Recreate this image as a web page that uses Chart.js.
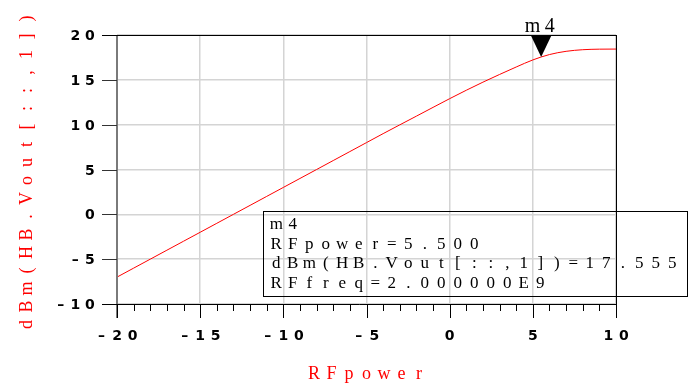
<!DOCTYPE html>
<html>
<head>
<meta charset="utf-8">
<script src="https://cdn.jsdelivr.net/npm/chart.js@4/dist/chart.umd.min.js"></script>
<style>
  html, body { margin: 0; padding: 0; background: #fff; }
  canvas { display: block; }
</style>
</head>
<body>
<canvas id="canvas" width="693" height="385"></canvas>
<script>
// swept input power (dBm) and output power dBm(HB.Vout[::,1])
const rfPower = [-20, -19, -18, -17, -16, -15, -14, -13, -12, -11, -10, -9, -8, -7, -6, -5,
                 -4, -3, -2, -1, 0, 1, 2, 3, 4, 5, 6, 7, 8, 9, 10];
const vout = [-7.0, -6.0, -5.0, -4.0, -3.0, -2.0, -1.0, 0.0, 1.0, 2.0, 3.0, 4.0, 5.0, 6.0, 7.0, 8.0,
              9.0, 9.98, 10.95, 11.93, 12.9, 13.84, 14.74, 15.6, 16.43, 17.22, 17.82, 18.18, 18.36, 18.42, 18.43];

// marker m4
const markerName = 'm4';
const markerX = [5.5];
const markerY = [17.555];
const markerLines = ['m4', 'RFpower=5.500', 'dBm(HB.Vout[::,1])=17.555', 'RFfreq=2.000000E9'];

// axes
const xTicks = [-20, -15, -10, -5, 0, 5, 10];
const yTicks = [-10, -5, 0, 5, 10, 15, 20];
const xTitle = 'RFpower';
const yTitle = 'dBm(HB.Vout[::,1])';

// draw text with a fixed pitch per character (like the original plot font)
function spaced(ctx, text, x, y, pitch, align) {
    const total = text.length * pitch;
    let start = x;
    if (align === 'center') start = x - total / 2;
    else if (align === 'right') start = x - total;
    ctx.textAlign = 'center';
    for (let i = 0; i < text.length; i++) {
        ctx.fillText(text[i], start + (i + 0.5) * pitch, y);
    }
}

function fmt(v) {
    return v < 0 ? '\u2013' + Math.abs(v) : String(v);
}

const decorPlugin = {
    id: 'decor',
    afterDraw(chart) {
        const ctx = chart.ctx;
        const xs = chart.scales.x;
        const ys = chart.scales.y;
        const area = chart.chartArea;
        const L = Math.round(area.left), R = Math.round(area.right);
        const T = Math.round(area.top), B = Math.round(area.bottom);
        ctx.save();

        // y axis (grey)
        ctx.strokeStyle = '#7a7a7a';
        ctx.lineWidth = 2;
        ctx.beginPath();
        ctx.moveTo(L, T);
        ctx.lineTo(L, B + 14);
        ctx.stroke();

        // y ticks
        ctx.lineWidth = 1;
        ctx.strokeStyle = '#333';
        yTicks.forEach(v => {
            const y = Math.round(ys.getPixelForValue(v)) + 0.5;
            ctx.beginPath();
            ctx.moveTo(L - 15, y);
            ctx.lineTo(L, y);
            ctx.stroke();
        });

        // frame: top, bottom, right
        ctx.strokeStyle = '#000';
        ctx.beginPath();
        ctx.moveTo(L - 15, T + 0.5); ctx.lineTo(R, T + 0.5);
        ctx.moveTo(L - 15, B + 0.5); ctx.lineTo(R + 0.5, B + 0.5);
        ctx.moveTo(R + 0.5, T); ctx.lineTo(R + 0.5, B + 14);
        ctx.stroke();

        // x ticks, major and minor
        ctx.beginPath();
        for (let v = xs.min; v <= xs.max; v++) {
            const x = Math.round(xs.getPixelForValue(v)) + 0.5;
            const major = xTicks.includes(v);
            ctx.moveTo(x, B);
            ctx.lineTo(x, B + (major ? 14 : 7));
        }
        ctx.stroke();

        // tick labels
        ctx.fillStyle = '#000';
        ctx.font = 'bold 14px "DejaVu Sans"';
        ctx.textBaseline = 'alphabetic';
        yTicks.forEach(v => {
            spaced(ctx, fmt(v), 97, Math.round(ys.getPixelForValue(v)) + 5, 14.5, 'right');
        });
        xTicks.forEach(v => {
            spaced(ctx, fmt(v), xs.getPixelForValue(v), 340, 15.5, 'center');
        });

        // axis titles
        ctx.fillStyle = '#ff0000';
        ctx.font = '18px "Liberation Serif"';
        spaced(ctx, xTitle, (L + R) / 2, 379, 17.5, 'center');
        ctx.save();
        ctx.translate(32, (T + B) / 2 + 2);
        ctx.rotate(-Math.PI / 2);
        spaced(ctx, yTitle, 0, 0, 18, 'center');
        ctx.restore();

        // marker triangle and name
        markerX.forEach((mx, i) => {
            const px = xs.getPixelForValue(mx);
            const py = ys.getPixelForValue(markerY[i]);
            ctx.fillStyle = '#000';
            ctx.beginPath();
            ctx.moveTo(px, py);
            ctx.lineTo(px - 10, py - 21);
            ctx.lineTo(px + 10, py - 21);
            ctx.closePath();
            ctx.fill();
            ctx.font = '20px "Liberation Serif"';
            spaced(ctx, markerName, px, py - 25, 17, 'center');
        });

        // readout box
        ctx.strokeStyle = '#000';
        ctx.lineWidth = 1;
        ctx.strokeRect(263.5, 211.5, 424, 85);
        ctx.fillStyle = '#000';
        ctx.font = '17px "Liberation Serif"';
        markerLines.forEach((line, i) => {
            spaced(ctx, line, 268, 229 + i * 19.5, 16.5, 'left');
        });

        ctx.restore();
    }
};

new Chart(document.getElementById('canvas').getContext('2d'), {
    type: 'line',
    data: {
        datasets: [{
            data: rfPower.map((x, i) => ({ x: x, y: vout[i] })),
            borderColor: '#ff0000',
            borderWidth: 1,
            pointRadius: 0,
            fill: false,
            cubicInterpolationMode: 'monotone'
        }]
    },
    options: {
        responsive: false,
        animation: false,
        devicePixelRatio: 1,
        layout: { padding: { top: 35, right: 77, left: 0, bottom: 0 } },
        plugins: {
            legend: { display: false },
            tooltip: { enabled: false }
        },
        scales: {
            x: {
                type: 'linear',
                min: -20,
                max: 10,
                ticks: { display: false, stepSize: 5 },
                grid: { color: '#d4d4d4', lineWidth: 1.5, drawTicks: false },
                border: { display: false },
                afterFit(s) { s.height = 81; }
            },
            y: {
                type: 'linear',
                min: -10,
                max: 20,
                ticks: { display: false, stepSize: 5 },
                grid: { color: '#d4d4d4', lineWidth: 1.5, drawTicks: false },
                border: { display: false },
                afterFit(s) { s.width = 117; }
            }
        }
    },
    plugins: [decorPlugin]
});
</script>
</body>
</html>
